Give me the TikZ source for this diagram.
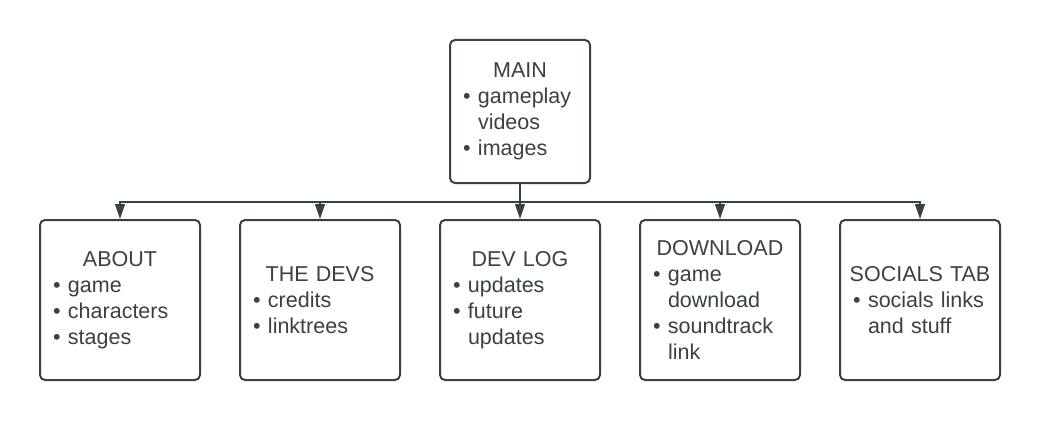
\documentclass[tikz,border=0pt]{standalone}
\usepackage{fontspec}
\setmainfont{Liberation Sans}
\usetikzlibrary{arrows.meta}
\definecolor{ink}{HTML}{3A4048}
\newcommand{\itm}{\makebox[15pt][l]{\textbullet}}
\newcommand{\cont}{\hspace*{15pt}}
\newcommand{\ttl}[1]{\makebox[\hsize][c]{#1}}
\begin{document}
\begin{tikzpicture}[x=1pt,y=-1pt]
        \tikzset{
        box/.style={draw=ink, line width=2pt, rounded corners=5pt, fill=white,
        text=ink, font=\fontsize{21.5}{26}\selectfont, align=left,
        inner xsep=13pt, inner ysep=0pt, text width=134pt, minimum height=160pt},
        conn/.style={-{Triangle[length=15pt,width=10pt]}, ink, line width=1.2pt}
        }
        \useasboundingbox (0,0) rectangle (1040,420);
        \node[box, text width=114pt, minimum height=143pt] (main) at (520,111.5)
        {\ttl{MAIN}\\\itm gameplay\\\cont videos\\\itm images};
        \node[box] (about) at (120,300)
        {\ttl{ABOUT}\\\itm game\\\itm characters\\\itm stages};
        \node[box] (devs) at (320,300)
        {\ttl{THE DEVS}\\\itm credits\\\itm linktrees};
        \node[box] (devlog) at (520,300)
        {\ttl{DEV LOG}\\\itm updates\\\itm future\\\cont updates};
        \node[box] (download) at (720,300)
        {\ttl{DOWNLOAD}\\\itm game\\\cont download\\\itm soundtrack\\\cont link};
        \node[box] (socials) at (920,300)
        {\ttl{SOCIALS TAB}\\\itm socials links\\\cont and stuff};
        \coordinate (bus) at (520,202);

        \draw[conn] (main.south) -- (bus) -| (about.north);
        \draw[conn] (main.south) -- (bus) -| (devs.north);
        \draw[conn] (main.south) -- (bus) -- (devlog.north);
        \draw[conn] (main.south) -- (bus) -| (download.north);
        \draw[conn] (main.south) -- (bus) -| (socials.north);
\end{tikzpicture}
\end{document}
